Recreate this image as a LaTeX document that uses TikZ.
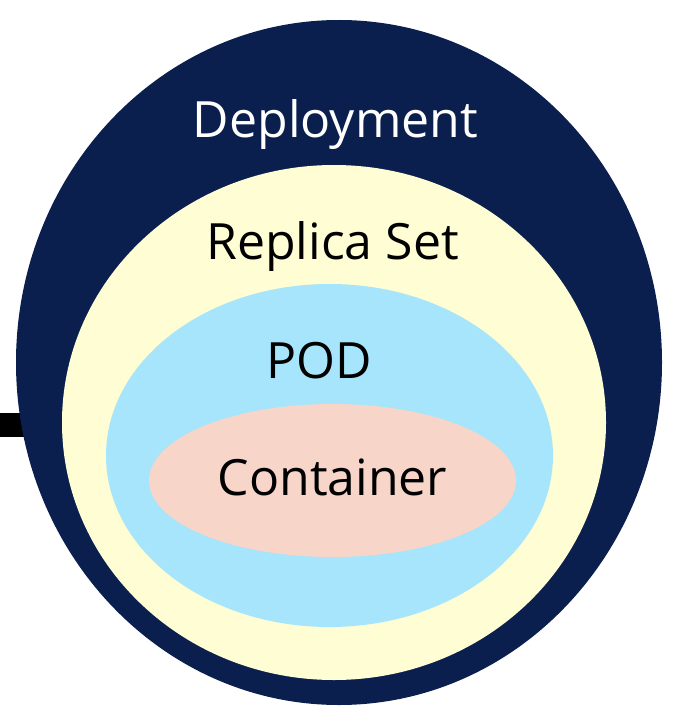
\documentclass[tikz,border=0pt]{standalone}
\usepackage{fontspec}
\setmainfont{Open Sans}
\usetikzlibrary{shapes.geometric}
\definecolor{navy}{HTML}{0A1F4E}
\definecolor{cream}{HTML}{FEFDD3}
\definecolor{sky}{HTML}{A6E5FC}
\definecolor{peach}{HTML}{F7D5C9}
\tikzset{
  layer/.style={ellipse, draw=none, inner sep=0pt, outer sep=0pt},
  label/.style={anchor=base, inner sep=0pt, font=\fontsize{50}{60}\selectfont}
}
\begin{document}
\begin{tikzpicture}[x=1pt,y=-1pt]
\useasboundingbox (0,0) rectangle (686,722);
\coordinate (linestart) at (0,425);
\coordinate (lineend) at (60,425);
\draw[line width=24pt, black] (linestart) -- (lineend);
\node[layer, fill=navy, minimum width=646pt, minimum height=685pt] (deploy) at (339,362.5) {};
\node[layer, fill=cream, minimum width=544pt, minimum height=515pt] (rs) at (334,422.5) {};
\node[layer, fill=sky, minimum width=447pt, minimum height=343pt] (pod) at (329.5,455.5) {};
\node[layer, fill=peach, minimum width=367pt, minimum height=153pt] (cont) at (332.5,480.5) {};
\node[label, text=white] (tdeploy) at (335.5,138) {Deployment};
\node[label, text=black] (trs) at (332.5,259) {Replica Set};
\node[label, text=black] (tpod) at (319.5,378) {POD};
\node[label, text=black] (tcont) at (332.5,495) {Container};
\end{tikzpicture}
\end{document}
